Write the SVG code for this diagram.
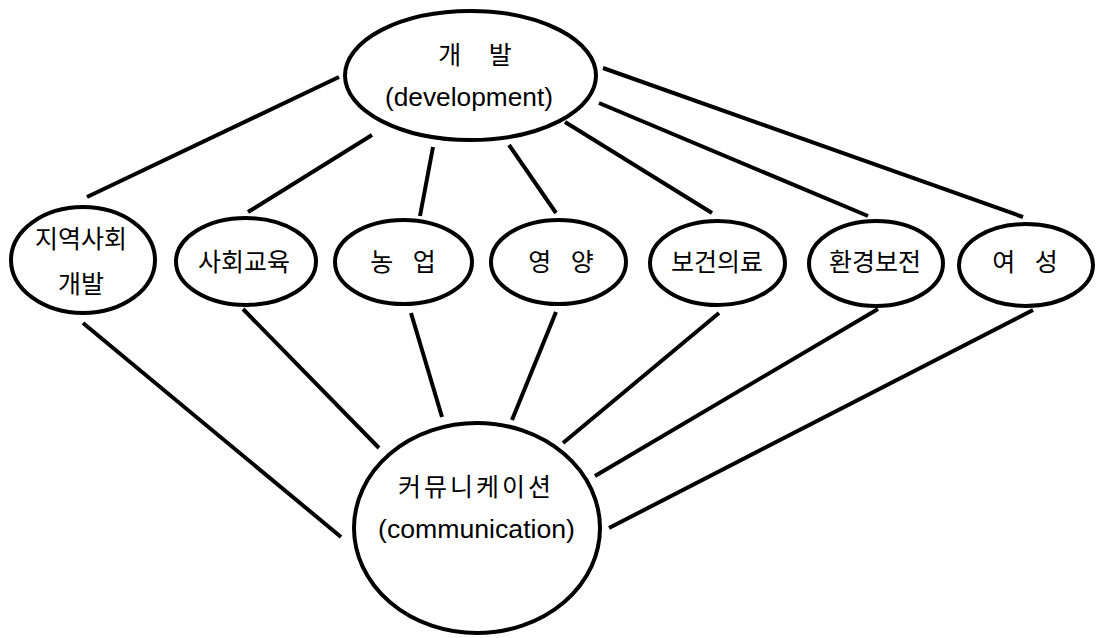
<svg xmlns="http://www.w3.org/2000/svg" width="1101" height="638" viewBox="0 0 1101 638">
<style>
.n{fill:#fff;stroke:#000;stroke-width:4}
.c line{stroke:#000;stroke-width:4;stroke-linecap:butt}
.ko{font-family:"Noto Sans CJK KR","Noto Sans",sans-serif;font-size:25px;fill:#000;text-anchor:middle}
.en{font-family:"Liberation Sans",Arial,sans-serif;font-size:25px;fill:#000;text-anchor:middle}
</style>
<rect width="1101" height="638" fill="#fff"/>
<g id="connectors" class="c">
<line x1="339" y1="77" x2="87" y2="197"/>
<line x1="372" y1="135" x2="248" y2="212"/>
<line x1="433" y1="147" x2="420" y2="216"/>
<line x1="509" y1="145" x2="556" y2="213"/>
<line x1="565" y1="122" x2="712" y2="213"/>
<line x1="599" y1="103" x2="868" y2="216"/>
<line x1="603" y1="68" x2="1023" y2="217"/>
<line x1="83" y1="323" x2="341" y2="537"/>
<line x1="243" y1="309" x2="379" y2="448"/>
<line x1="411" y1="313" x2="442" y2="417"/>
<line x1="556" y1="312" x2="512" y2="420"/>
<line x1="719" y1="313" x2="563" y2="443"/>
<line x1="878" y1="309" x2="595" y2="476"/>
<line x1="1033" y1="310" x2="609" y2="528"/>
</g>
<g id="development">
<ellipse class="n" cx="470.5" cy="75.5" rx="125.5" ry="64.5"/>
<text class="ko" x="475" y="64" font-size="22" word-spacing="22">개 발</text>
<text class="en" x="469" y="106" textLength="168" lengthAdjust="spacingAndGlyphs">(development)</text>
</g>
<g id="community">
<ellipse class="n" cx="83" cy="260" rx="72" ry="53"/>
<text class="ko" x="81" y="248">지역사회</text>
<text class="ko" x="81" y="293">개발</text>
</g>
<g id="social-education">
<ellipse class="n" cx="246" cy="261.5" rx="70" ry="43.5"/>
<text class="ko" x="244" y="271">사회교육</text>
</g>
<g id="agriculture">
<ellipse class="n" cx="403.5" cy="262" rx="68.5" ry="42"/>
<text class="ko" x="403" y="271" word-spacing="14">농 업</text>
</g>
<g id="nutrition">
<ellipse class="n" cx="558.5" cy="262" rx="67.5" ry="42"/>
<text class="ko" x="561" y="271" word-spacing="14">영 양</text>
</g>
<g id="health">
<ellipse class="n" cx="717.5" cy="263" rx="67.5" ry="42"/>
<text class="ko" x="717" y="271">보건의료</text>
</g>
<g id="environment">
<ellipse class="n" cx="876" cy="263.5" rx="67" ry="42.5"/>
<text class="ko" x="875" y="271">환경보전</text>
</g>
<g id="women">
<ellipse class="n" cx="1026" cy="265" rx="67" ry="41"/>
<text class="ko" x="1025" y="271" word-spacing="14">여 성</text>
</g>
<g id="communication">
<ellipse class="n" cx="477" cy="528" rx="123" ry="105"/>
<text class="ko" x="476" y="496" letter-spacing="3">커뮤니케이션</text>
<text class="en" x="476.5" y="538" textLength="197" lengthAdjust="spacingAndGlyphs">(communication)</text>
</g>
</svg>
